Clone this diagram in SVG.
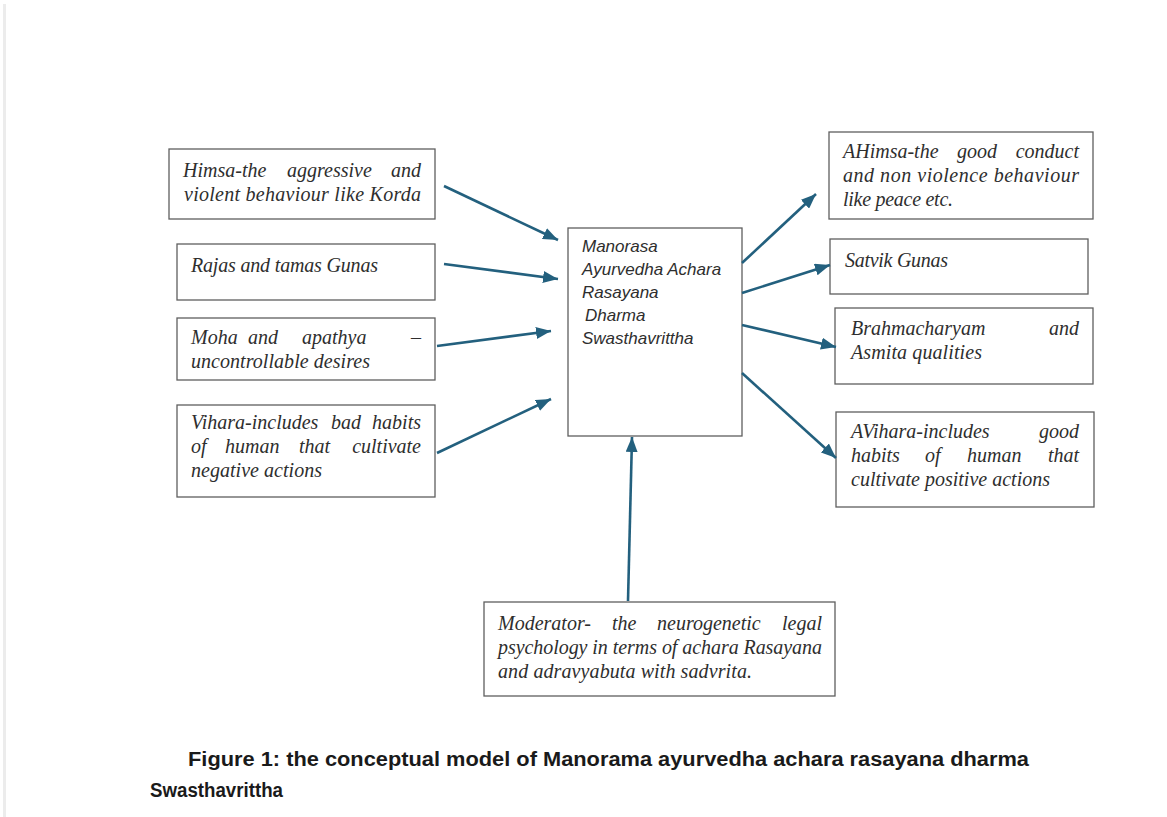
<svg xmlns="http://www.w3.org/2000/svg" width="1167" height="817" viewBox="0 0 1167 817">
<style>
.box{fill:#fff;stroke:#5f5f5f;stroke-width:1.3}
.t{font-family:"Liberation Serif",serif;font-style:italic;font-size:20px;fill:#2e2e2e}
.e{text-anchor:end}
.c{font-family:"Liberation Sans",Arial,sans-serif;font-style:italic;font-size:17px;fill:#2e2e2e}
.cap{font-family:"Liberation Sans",Arial,sans-serif;font-weight:bold;font-size:20px;fill:#1a1a1a}
.arr{stroke:#23607e;stroke-width:2.6;fill:none;marker-end:url(#ah)}
</style>
<defs>
<marker id="ah" markerUnits="userSpaceOnUse" markerWidth="16" markerHeight="12" refX="15" refY="6" orient="auto">
<path d="M0,0 L15,6 L0,12 z" fill="#23607e"/>
</marker>
</defs>
<rect width="1167" height="817" fill="#fff"/>
<rect x="3" y="4" width="3" height="813" fill="#ececec"/>

<g id="himsa">
<rect class="box" x="169" y="149" width="266" height="70"/>
<text class="t"><tspan x="183" y="177">Himsa-the</tspan><tspan x="287" y="177">aggressive</tspan><tspan x="421" y="177" class="e">and</tspan></text>
<text class="t" x="184" y="201" textLength="237" lengthAdjust="spacing">violent behaviour like Korda</text>
</g>
<g id="rajas">
<rect class="box" x="177" y="244" width="258" height="56"/>
<text class="t" x="191" y="272" textLength="187" lengthAdjust="spacing">Rajas and tamas Gunas</text>
</g>
<g id="moha">
<rect class="box" x="177" y="318" width="258" height="62"/>
<text class="t"><tspan x="191" y="344">Moha</tspan><tspan x="248" y="344">and</tspan><tspan x="302" y="344">apathya</tspan><tspan x="421" y="344" class="e">–</tspan></text>
<text class="t" x="191" y="368" textLength="179" lengthAdjust="spacing">uncontrollable desires</text>
</g>
<g id="vihara">
<rect class="box" x="177" y="405" width="258" height="92"/>
<text class="t"><tspan x="191" y="429">Vihara-includes</tspan><tspan x="331" y="429">bad</tspan><tspan x="421" y="429" class="e">habits</tspan></text>
<text class="t"><tspan x="191" y="453">of</tspan><tspan x="225" y="453">human</tspan><tspan x="299" y="453">that</tspan><tspan x="421" y="453" class="e">cultivate</tspan></text>
<text class="t" x="191" y="477" textLength="131" lengthAdjust="spacing">negative actions</text>
</g>
<g id="center">
<rect class="box" x="568" y="228" width="174" height="208"/>
<text class="c"><tspan x="582" y="252">Manorasa</tspan><tspan x="582" y="275">Ayurvedha Achara</tspan><tspan x="582" y="298">Rasayana</tspan><tspan x="585" y="321">Dharma</tspan><tspan x="582" y="344">Swasthavrittha</tspan></text>
</g>
<g id="ahimsa">
<rect class="box" x="829" y="132" width="264" height="87"/>
<text class="t"><tspan x="843" y="158">AHimsa-the</tspan><tspan x="957" y="158">good</tspan><tspan x="1079" y="158" class="e">conduct</tspan></text>
<text class="t" x="843" y="182" textLength="236" lengthAdjust="spacing">and non violence behaviour</text>
<text class="t" x="843" y="206" textLength="110" lengthAdjust="spacing">like peace etc.</text>
</g>
<g id="satvik">
<rect class="box" x="830" y="239" width="258" height="55"/>
<text class="t" x="845" y="267" textLength="103" lengthAdjust="spacing">Satvik Gunas</text>
</g>
<g id="brahma">
<rect class="box" x="835" y="308" width="258" height="76"/>
<text class="t"><tspan x="851" y="335">Brahmacharyam</tspan><tspan x="1079" y="335" class="e">and</tspan></text>
<text class="t" x="851" y="359" textLength="131" lengthAdjust="spacing">Asmita qualities</text>
</g>
<g id="avihara">
<rect class="box" x="836" y="412" width="258" height="95"/>
<text class="t"><tspan x="851" y="438">AVihara-includes</tspan><tspan x="1079" y="438" class="e">good</tspan></text>
<text class="t"><tspan x="851" y="462">habits</tspan><tspan x="925" y="462">of</tspan><tspan x="967" y="462">human</tspan><tspan x="1079" y="462" class="e">that</tspan></text>
<text class="t" x="851" y="486" textLength="199" lengthAdjust="spacing">cultivate positive actions</text>
</g>
<g id="moderator">
<rect class="box" x="484" y="602" width="351" height="94"/>
<text class="t"><tspan x="498" y="630">Moderator-</tspan><tspan x="612" y="630">the</tspan><tspan x="657" y="630">neurogenetic</tspan><tspan x="822" y="630" class="e">legal</tspan></text>
<text class="t" x="498" y="654" textLength="324" lengthAdjust="spacing">psychology in terms of achara Rasayana</text>
<text class="t" x="498" y="678" textLength="254" lengthAdjust="spacing">and adravyabuta with sadvrita.</text>
</g>

<g id="connectors">
<line class="arr" x1="444" y1="186" x2="558" y2="240"/>
<line class="arr" x1="444" y1="264" x2="558" y2="279"/>
<line class="arr" x1="437" y1="346" x2="551" y2="331"/>
<line class="arr" x1="437" y1="453" x2="551" y2="399"/>
<line class="arr" x1="742" y1="263" x2="816" y2="194"/>
<line class="arr" x1="742" y1="293" x2="830" y2="265"/>
<line class="arr" x1="742" y1="325" x2="836" y2="347"/>
<line class="arr" x1="742" y1="373" x2="836" y2="458"/>
<line class="arr" x1="628" y1="601" x2="632" y2="437"/>
</g>

<g id="caption">
<text class="cap" x="188" y="766" textLength="841" lengthAdjust="spacingAndGlyphs">Figure 1: the conceptual model of Manorama ayurvedha achara rasayana dharma</text>
<text class="cap" x="150" y="797" textLength="133" lengthAdjust="spacingAndGlyphs">Swasthavrittha</text>
</g>
</svg>
